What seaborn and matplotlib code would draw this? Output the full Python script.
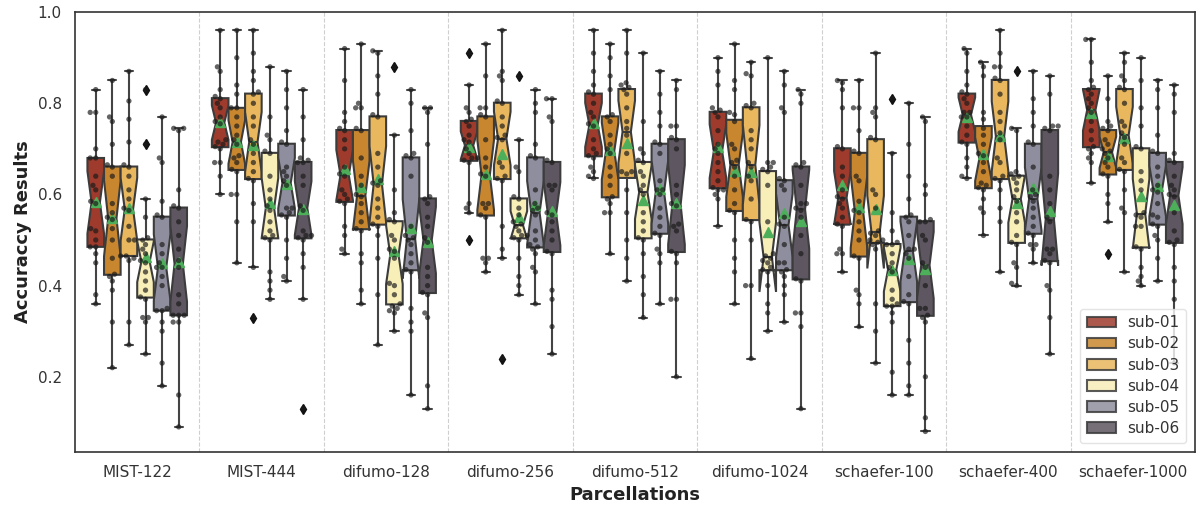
import numpy as np
import pandas as pd
import seaborn as sns
import matplotlib.pyplot as plt

# ---------------- data ----------------
parcellations = ["MIST-122", "MIST-444", "difumo-128", "difumo-256", "difumo-512",
                 "difumo-1024", "schaefer-100", "schaefer-400", "schaefer-1000"]
subjects = ["sub-01", "sub-02", "sub-03", "sub-04", "sub-05", "sub-06"]
palette = ["#9e3b2c", "#c8872f", "#e8b75e", "#f7eeb8", "#8f8e9e", "#5e5660"]

mist_122 = [
    [0.36, 0.38, 0.45, 0.47, 0.485, 0.485, 0.50, 0.52, 0.525, 0.58, 0.585, 0.61, 0.62, 0.64, 0.68, 0.68, 0.70, 0.78, 0.78, 0.83],
    [0.22, 0.32, 0.39, 0.41, 0.42, 0.425, 0.46, 0.50, 0.525, 0.545, 0.55, 0.56, 0.58, 0.64, 0.66, 0.665, 0.71, 0.76, 0.77, 0.85],
    [0.27, 0.32, 0.455, 0.46, 0.465, 0.465, 0.50, 0.50, 0.53, 0.565, 0.57, 0.59, 0.61, 0.64, 0.66, 0.665, 0.715, 0.765, 0.805, 0.87],
    [0.25, 0.32, 0.33, 0.33, 0.37, 0.375, 0.39, 0.41, 0.43, 0.45, 0.455, 0.47, 0.48, 0.49, 0.50, 0.505, 0.55, 0.59, 0.71, 0.83],
    [0.18, 0.23, 0.30, 0.32, 0.345, 0.345, 0.35, 0.40, 0.42, 0.44, 0.44, 0.45, 0.47, 0.49, 0.55, 0.555, 0.585, 0.67, 0.68, 0.77],
    [0.09, 0.16, 0.32, 0.32, 0.335, 0.335, 0.335, 0.36, 0.38, 0.44, 0.455, 0.48, 0.51, 0.54, 0.57, 0.575, 0.61, 0.74, 0.745, 0.745],
]
mist_444 = [
    [0.60, 0.64, 0.67, 0.67, 0.70, 0.705, 0.71, 0.715, 0.72, 0.755, 0.76, 0.77, 0.79, 0.80, 0.81, 0.815, 0.83, 0.87, 0.88, 0.96],
    [0.45, 0.54, 0.60, 0.60, 0.65, 0.655, 0.67, 0.68, 0.685, 0.71, 0.72, 0.73, 0.75, 0.77, 0.79, 0.79, 0.82, 0.84, 0.90, 0.96],
    [0.33, 0.44, 0.54, 0.58, 0.63, 0.635, 0.65, 0.67, 0.69, 0.71, 0.72, 0.75, 0.77, 0.80, 0.82, 0.825, 0.85, 0.87, 0.91, 0.96],
    [0.37, 0.39, 0.41, 0.43, 0.50, 0.505, 0.51, 0.52, 0.54, 0.565, 0.575, 0.59, 0.61, 0.64, 0.69, 0.695, 0.72, 0.73, 0.77, 0.88],
    [0.41, 0.42, 0.46, 0.50, 0.55, 0.555, 0.56, 0.57, 0.57, 0.62, 0.63, 0.64, 0.65, 0.66, 0.71, 0.715, 0.74, 0.79, 0.83, 0.87],
    [0.13, 0.37, 0.44, 0.47, 0.50, 0.505, 0.51, 0.51, 0.52, 0.565, 0.575, 0.62, 0.64, 0.67, 0.67, 0.675, 0.68, 0.72, 0.77, 0.83],
]
difumo_128 = [
    [0.47, 0.48, 0.51, 0.53, 0.58, 0.585, 0.59, 0.60, 0.61, 0.64, 0.645, 0.66, 0.70, 0.72, 0.74, 0.745, 0.76, 0.78, 0.85, 0.92],
    [0.36, 0.39, 0.45, 0.47, 0.52, 0.525, 0.54, 0.56, 0.58, 0.595, 0.60, 0.62, 0.64, 0.68, 0.74, 0.745, 0.79, 0.79, 0.80, 0.93],
    [0.27, 0.38, 0.46, 0.51, 0.53, 0.535, 0.55, 0.57, 0.59, 0.62, 0.625, 0.63, 0.66, 0.69, 0.77, 0.775, 0.82, 0.86, 0.91, 0.915],
    [0.30, 0.34, 0.345, 0.35, 0.355, 0.36, 0.38, 0.40, 0.405, 0.46, 0.475, 0.48, 0.50, 0.51, 0.54, 0.545, 0.56, 0.61, 0.73, 0.88],
    [0.16, 0.30, 0.32, 0.35, 0.43, 0.435, 0.45, 0.47, 0.49, 0.50, 0.505, 0.51, 0.53, 0.64, 0.68, 0.685, 0.69, 0.74, 0.80, 0.83],
    [0.13, 0.18, 0.33, 0.34, 0.38, 0.385, 0.40, 0.42, 0.44, 0.495, 0.505, 0.53, 0.55, 0.58, 0.59, 0.595, 0.71, 0.78, 0.79, 0.79],
]
difumo_256 = [
    [0.50, 0.56, 0.57, 0.58, 0.67, 0.675, 0.68, 0.68, 0.69, 0.70, 0.715, 0.72, 0.73, 0.75, 0.76, 0.765, 0.78, 0.79, 0.84, 0.91],
    [0.43, 0.45, 0.46, 0.46, 0.55, 0.555, 0.57, 0.58, 0.58, 0.64, 0.645, 0.66, 0.68, 0.72, 0.77, 0.775, 0.79, 0.79, 0.86, 0.93],
    [0.24, 0.46, 0.48, 0.53, 0.63, 0.635, 0.64, 0.66, 0.67, 0.72, 0.725, 0.73, 0.75, 0.77, 0.80, 0.805, 0.85, 0.86, 0.87, 0.96],
    [0.38, 0.40, 0.42, 0.46, 0.50, 0.505, 0.51, 0.51, 0.52, 0.53, 0.535, 0.54, 0.555, 0.57, 0.59, 0.595, 0.65, 0.66, 0.72, 0.86],
    [0.36, 0.43, 0.44, 0.47, 0.48, 0.485, 0.49, 0.50, 0.52, 0.555, 0.565, 0.57, 0.58, 0.61, 0.68, 0.685, 0.71, 0.78, 0.80, 0.83],
    [0.25, 0.31, 0.37, 0.39, 0.47, 0.475, 0.50, 0.52, 0.54, 0.555, 0.56, 0.61, 0.62, 0.62, 0.67, 0.675, 0.76, 0.77, 0.81, 0.81],
]
difumo_512 = [
    [0.635, 0.64, 0.65, 0.66, 0.68, 0.685, 0.69, 0.70, 0.72, 0.75, 0.755, 0.77, 0.78, 0.80, 0.82, 0.825, 0.84, 0.87, 0.91, 0.96],
    [0.47, 0.56, 0.56, 0.58, 0.59, 0.595, 0.62, 0.64, 0.66, 0.69, 0.70, 0.71, 0.73, 0.76, 0.77, 0.775, 0.83, 0.86, 0.90, 0.93],
    [0.41, 0.46, 0.50, 0.56, 0.61, 0.645, 0.65, 0.65, 0.69, 0.73, 0.745, 0.76, 0.79, 0.82, 0.83, 0.835, 0.84, 0.845, 0.91, 0.96],
    [0.33, 0.38, 0.42, 0.47, 0.50, 0.505, 0.52, 0.54, 0.56, 0.60, 0.61, 0.62, 0.64, 0.65, 0.67, 0.675, 0.69, 0.70, 0.76, 0.91],
    [0.36, 0.45, 0.47, 0.48, 0.51, 0.515, 0.53, 0.55, 0.57, 0.60, 0.61, 0.61, 0.63, 0.69, 0.71, 0.715, 0.75, 0.78, 0.82, 0.87],
    [0.20, 0.37, 0.37, 0.45, 0.47, 0.475, 0.52, 0.53, 0.535, 0.575, 0.58, 0.60, 0.62, 0.70, 0.72, 0.725, 0.75, 0.75, 0.83, 0.85],
]
difumo_1024 = [
    [0.53, 0.59, 0.60, 0.61, 0.61, 0.615, 0.63, 0.65, 0.67, 0.69, 0.70, 0.71, 0.74, 0.77, 0.78, 0.785, 0.79, 0.84, 0.87, 0.90],
    [0.36, 0.43, 0.46, 0.50, 0.56, 0.565, 0.58, 0.61, 0.64, 0.66, 0.67, 0.675, 0.70, 0.71, 0.76, 0.775, 0.78, 0.83, 0.85, 0.93],
    [0.24, 0.40, 0.40, 0.50, 0.54, 0.545, 0.59, 0.63, 0.64, 0.66, 0.67, 0.70, 0.72, 0.74, 0.79, 0.795, 0.80, 0.86, 0.865, 0.89],
    [0.30, 0.34, 0.36, 0.40, 0.43, 0.435, 0.44, 0.45, 0.455, 0.46, 0.465, 0.47, 0.54, 0.62, 0.65, 0.655, 0.66, 0.67, 0.67, 0.90],
    [0.32, 0.38, 0.40, 0.42, 0.43, 0.435, 0.45, 0.45, 0.49, 0.53, 0.535, 0.55, 0.61, 0.62, 0.63, 0.635, 0.78, 0.79, 0.84, 0.87],
    [0.13, 0.31, 0.34, 0.34, 0.41, 0.415, 0.47, 0.51, 0.55, 0.565, 0.57, 0.58, 0.58, 0.62, 0.66, 0.665, 0.67, 0.80, 0.82, 0.83],
]
schaefer_100 = [
    [0.43, 0.47, 0.47, 0.48, 0.53, 0.535, 0.55, 0.57, 0.58, 0.59, 0.595, 0.61, 0.64, 0.66, 0.70, 0.705, 0.79, 0.83, 0.845, 0.85],
    [0.31, 0.36, 0.38, 0.39, 0.46, 0.465, 0.50, 0.52, 0.54, 0.56, 0.565, 0.585, 0.63, 0.64, 0.69, 0.695, 0.74, 0.79, 0.79, 0.85],
    [0.23, 0.30, 0.36, 0.48, 0.49, 0.495, 0.50, 0.50, 0.51, 0.515, 0.52, 0.57, 0.60, 0.61, 0.72, 0.725, 0.77, 0.78, 0.79, 0.91],
    [0.16, 0.21, 0.32, 0.34, 0.355, 0.355, 0.36, 0.37, 0.39, 0.43, 0.44, 0.45, 0.47, 0.49, 0.49, 0.495, 0.52, 0.56, 0.69, 0.81],
    [0.16, 0.18, 0.23, 0.28, 0.36, 0.365, 0.38, 0.42, 0.46, 0.47, 0.48, 0.48, 0.51, 0.54, 0.55, 0.555, 0.59, 0.64, 0.71, 0.80],
    [0.08, 0.11, 0.20, 0.32, 0.33, 0.335, 0.35, 0.35, 0.40, 0.44, 0.45, 0.50, 0.51, 0.54, 0.54, 0.545, 0.60, 0.62, 0.76, 0.77],
]
schaefer_400 = [
    [0.635, 0.64, 0.66, 0.68, 0.71, 0.715, 0.73, 0.75, 0.77, 0.77, 0.78, 0.78, 0.80, 0.81, 0.82, 0.825, 0.84, 0.87, 0.91, 0.92],
    [0.51, 0.56, 0.57, 0.59, 0.61, 0.615, 0.62, 0.625, 0.65, 0.67, 0.685, 0.69, 0.71, 0.73, 0.745, 0.765, 0.78, 0.86, 0.88, 0.89],
    [0.43, 0.54, 0.57, 0.61, 0.63, 0.635, 0.64, 0.67, 0.68, 0.72, 0.735, 0.76, 0.78, 0.82, 0.85, 0.855, 0.88, 0.88, 0.91, 0.96],
    [0.40, 0.405, 0.44, 0.45, 0.49, 0.495, 0.51, 0.54, 0.56, 0.585, 0.595, 0.61, 0.625, 0.635, 0.64, 0.645, 0.65, 0.74, 0.745, 0.87],
    [0.45, 0.48, 0.49, 0.49, 0.51, 0.515, 0.53, 0.55, 0.57, 0.585, 0.595, 0.60, 0.61, 0.66, 0.71, 0.715, 0.75, 0.78, 0.81, 0.87],
    [0.25, 0.33, 0.39, 0.40, 0.45, 0.455, 0.47, 0.48, 0.48, 0.54, 0.55, 0.58, 0.61, 0.64, 0.74, 0.745, 0.75, 0.75, 0.82, 0.86],
]
schaefer_1000 = [
    [0.625, 0.67, 0.68, 0.69, 0.70, 0.705, 0.72, 0.74, 0.76, 0.78, 0.79, 0.80, 0.81, 0.82, 0.83, 0.835, 0.85, 0.89, 0.94, 0.94],
    [0.47, 0.54, 0.58, 0.60, 0.64, 0.645, 0.66, 0.67, 0.68, 0.69, 0.695, 0.70, 0.71, 0.72, 0.74, 0.745, 0.75, 0.76, 0.81, 0.86],
    [0.43, 0.56, 0.57, 0.61, 0.65, 0.655, 0.67, 0.68, 0.71, 0.725, 0.735, 0.75, 0.76, 0.80, 0.83, 0.835, 0.85, 0.86, 0.89, 0.91],
    [0.40, 0.41, 0.42, 0.44, 0.48, 0.485, 0.53, 0.53, 0.55, 0.555, 0.56, 0.61, 0.63, 0.65, 0.70, 0.705, 0.75, 0.79, 0.85, 0.90],
    [0.41, 0.46, 0.50, 0.51, 0.53, 0.535, 0.55, 0.555, 0.58, 0.605, 0.61, 0.62, 0.64, 0.66, 0.69, 0.695, 0.73, 0.79, 0.83, 0.85],
    [0.23, 0.37, 0.41, 0.44, 0.49, 0.495, 0.50, 0.52, 0.56, 0.595, 0.60, 0.61, 0.62, 0.64, 0.67, 0.675, 0.69, 0.78, 0.82, 0.84],
]

all_results = [mist_122, mist_444, difumo_128, difumo_256, difumo_512,
               difumo_1024, schaefer_100, schaefer_400, schaefer_1000]

rows = []
for parc, per_sub in zip(parcellations, all_results):
    for sub, vals in zip(subjects, per_sub):
        for v in vals:
            rows.append((parc, sub, v))
df = pd.DataFrame(rows, columns=["Parcellation", "Subject", "Accuracy"])

# ---------------- plotting ----------------
sns.set_theme(style="white")
plt.rcParams["font.family"] = ["DejaVu Sans"]
np.random.seed(0)

fig, ax = plt.subplots(figsize=(11.98, 5.05), dpi=100)
fig.subplots_adjust(left=0.0626, right=0.9975, top=0.976, bottom=0.105)

line_col = "#3c3c3c"
sns.boxplot(
    data=df, x="Parcellation", y="Accuracy", hue="Subject",
    order=parcellations, hue_order=subjects, palette=palette,
    saturation=1, notch=True, showmeans=True, width=0.8, gap=0,
    linewidth=1.5, linecolor=line_col, fliersize=5,
    meanprops=dict(marker="^", markerfacecolor="#4daf5a", markeredgecolor="#4daf5a", markersize=6.5),
    flierprops=dict(marker="d", markerfacecolor="#111111", markeredgecolor="#111111"),
    whiskerprops=dict(color="#444444"), capprops=dict(color="#444444"),
    ax=ax,
)
sns.swarmplot(
    data=df, x="Parcellation", y="Accuracy", hue="Subject",
    order=parcellations, hue_order=subjects, palette=["#1a1a1a"] * 6,
    dodge=True, alpha=0.68, size=3.8, legend=False, ax=ax, warn_thresh=1.0,
)

for i in range(len(parcellations) - 1):
    ax.axvline(i + 0.5, color="#cfcfcf", ls="--", lw=0.8, zorder=0)

ax.set_xlim(-0.5, len(parcellations) - 0.5)
ax.set_ylim(0.035, 1.0)
ax.set_yticks([0.2, 0.4, 0.6, 0.8, 1.0])
ax.tick_params(axis="both", labelsize=11, colors="#333333")
ax.set_xlabel("Parcellations", fontsize=13, fontweight="bold", color="#222222")
ax.set_ylabel("Accuraccy Results", fontsize=13, fontweight="bold", color="#222222")
for sp in ax.spines.values():
    sp.set_color("#333333")
    sp.set_linewidth(1.2)

handles, labels = ax.get_legend_handles_labels()
leg = ax.legend(handles[:6], labels[:6], loc="lower right", fontsize=11,
                frameon=True, framealpha=0.8, edgecolor="#dddddd",
                labelspacing=0.4, handlelength=1.9, handletextpad=0.7,
                borderpad=0.45, borderaxespad=0.6)
for h in leg.legend_handles:
    h.set_alpha(0.85)
for t in leg.get_texts():
    t.set_color("#333333")

fig.savefig("out.png", dpi=100)
